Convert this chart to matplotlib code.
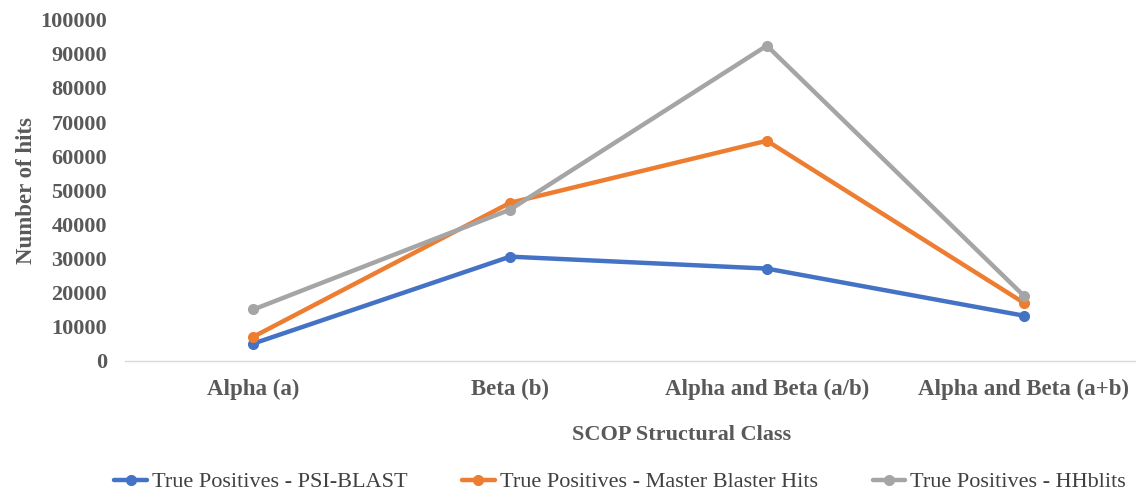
import matplotlib.pyplot as plt

# SCOP classes and true positive counts per tool
categories = ["Alpha (a)", "Beta (b)", "Alpha and Beta (a/b)", "Alpha and Beta (a+b)"]
psi_blast = [5000, 30500, 27000, 13200]
master_blaster = [7000, 46300, 64500, 17000]
hhblits = [15000, 44300, 92400, 19100]

plt.rcParams['font.family'] = ['Liberation Serif', 'DejaVu Serif']

fig = plt.figure(figsize=(11.36, 4.94), dpi=100)
ax = fig.add_axes([0.110, 0.27, 0.895, 0.69])

x = range(len(categories))
series = [
    (psi_blast, "#4472C4", "True Positives - PSI-BLAST"),
    (master_blaster, "#ED7D31", "True Positives - Master Blaster Hits"),
    (hhblits, "#A5A5A5", "True Positives - HHblits"),
]
for vals, col, lab in series:
    ax.plot(x, vals, color=col, lw=3.2, marker="o", ms=7, label=lab,
            solid_capstyle="round", solid_joinstyle="round")

ax.set_ylim(0, 100000)
ax.set_yticks(range(0, 100001, 10000))
ax.set_xlim(-0.5, 3.46)
ax.set_xticks(list(x))
ax.set_xticklabels(categories)

for s in ["top", "right", "left"]:
    ax.spines[s].set_visible(False)
ax.spines["bottom"].set_color("#D9D9D9")
ax.spines["bottom"].set_linewidth(1.0)
ax.tick_params(axis="y", length=0, labelsize=16, labelcolor="#595959", pad=13)
ax.tick_params(axis="x", length=0, labelsize=16.5, labelcolor="#595959", pad=13)
for t in ax.get_xticklabels() + ax.get_yticklabels():
    t.set_fontweight("bold")

ax.set_ylabel("Number of hits", fontsize=16.5, fontweight="bold", color="#595959")
ax.yaxis.set_label_coords(-0.087, 0.5)
ax.set_xlabel("SCOP Structural Class", fontsize=16, fontweight="bold", color="#595959")
ax.xaxis.set_label_coords(0.547, -0.19)

fig.legend(loc="center", bbox_to_anchor=(0.546, 0.024), ncol=3, frameon=False,
           fontsize=16, labelcolor="#404040", handlelength=1.45, handletextpad=0.25,
           columnspacing=2.45, borderpad=0.0)

fig.savefig("out.png", dpi=100)
